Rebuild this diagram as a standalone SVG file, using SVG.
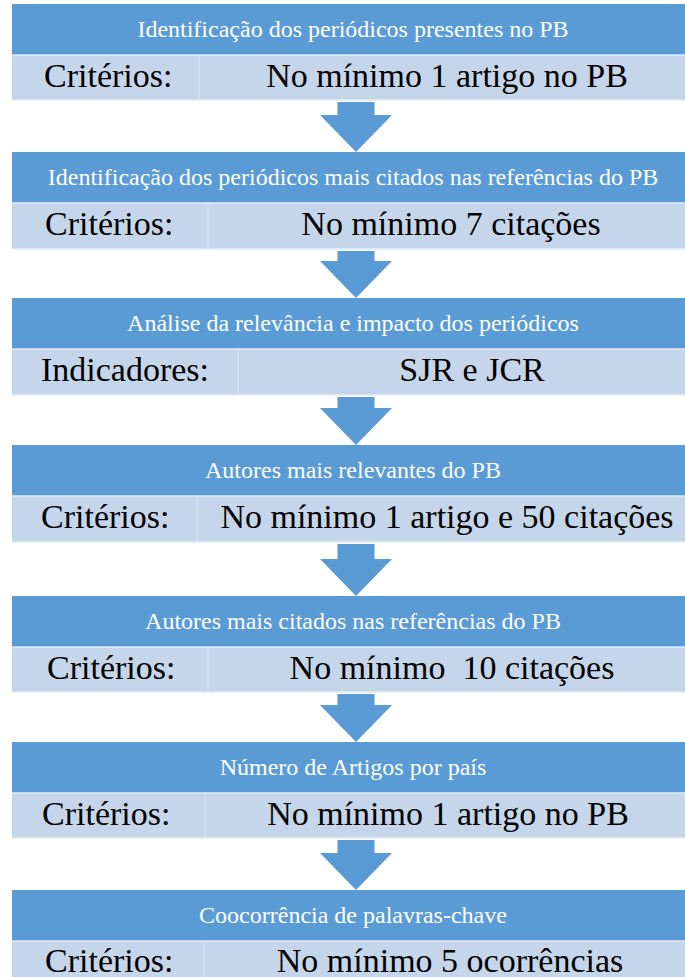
<svg xmlns="http://www.w3.org/2000/svg" width="685" height="977" viewBox="0 0 685 977">
<style>
.hd{fill:#5B9BD5}
.rw{fill:#C5D6EB}
.sep{stroke:#E4ECF6;stroke-width:1.5}
.div{stroke:#D6E1F0;stroke-width:1.5}
.ht{font-size:24px;fill:#FFFFFF;text-anchor:middle}
.lb{font-size:34px;fill:#000000}
.vl{font-size:34px;fill:#000000;text-anchor:middle;white-space:pre}
.ar{fill:#5B9BD5}
</style>
<rect width="685" height="977" fill="#FFFFFF"/>
<g id="connectors">
<polygon class="ar" points="337.5,102 374.5,102 374.5,115 392,115 356,152 320,115 337.5,115"/>
<polygon class="ar" points="337.5,251 374.5,251 374.5,261 392,261 356,298 320,261 337.5,261"/>
<polygon class="ar" points="337.5,397 374.5,397 374.5,408 392,408 356,445 320,408 337.5,408"/>
<polygon class="ar" points="337.5,544 374.5,544 374.5,559 392,559 356,596 320,559 337.5,559"/>
<polygon class="ar" points="337.5,694 374.5,694 374.5,705 392,705 356,742 320,705 337.5,705"/>
<polygon class="ar" points="337.5,840 374.5,840 374.5,853 392,853 356,890 320,853 337.5,853"/>
</g>
<g font-family="Liberation Serif, serif">
<g id="node1">
<rect class="hd" x="12" y="4" width="690" height="51"/>
<rect class="rw" x="12" y="55" width="690" height="45"/>
<line class="sep" x1="12" y1="55" x2="702" y2="55"/>
<line class="sep" x1="12" y1="100" x2="702" y2="100"/>
<line class="div" x1="199" y1="55" x2="199" y2="100"/>
<text class="ht" x="353" y="37">Identificação dos periódicos presentes no PB</text>
<text class="lb" x="44" y="87">Critérios:</text>
<text class="vl" x="447" y="87">No mínimo 1 artigo no PB</text>
</g>
<g id="node2">
<rect class="hd" x="12" y="152" width="690" height="51"/>
<rect class="rw" x="12" y="203" width="690" height="46"/>
<line class="sep" x1="12" y1="203" x2="702" y2="203"/>
<line class="sep" x1="12" y1="249" x2="702" y2="249"/>
<line class="div" x1="208" y1="203" x2="208" y2="249"/>
<text class="ht" x="353" y="185">Identificação dos periódicos mais citados nas referências do PB</text>
<text class="lb" x="45" y="235">Critérios:</text>
<text class="vl" x="451" y="235">No mínimo 7 citações</text>
</g>
<g id="node3">
<rect class="hd" x="12" y="298" width="690" height="51"/>
<rect class="rw" x="12" y="349" width="690" height="46"/>
<line class="sep" x1="12" y1="349" x2="702" y2="349"/>
<line class="sep" x1="12" y1="395" x2="702" y2="395"/>
<line class="div" x1="238" y1="349" x2="238" y2="395"/>
<text class="ht" x="353" y="331">Análise da relevância e impacto dos periódicos</text>
<text class="lb" x="41" y="381">Indicadores:</text>
<text class="vl" x="472" y="381">SJR e JCR</text>
</g>
<g id="node4">
<rect class="hd" x="12" y="445" width="690" height="51"/>
<rect class="rw" x="12" y="496" width="690" height="46"/>
<line class="sep" x1="12" y1="496" x2="702" y2="496"/>
<line class="sep" x1="12" y1="542" x2="702" y2="542"/>
<line class="div" x1="197" y1="496" x2="197" y2="542"/>
<text class="ht" x="353" y="478">Autores mais relevantes do PB</text>
<text class="lb" x="41" y="528">Critérios:</text>
<text class="vl" x="447" y="528">No mínimo 1 artigo e 50 citações</text>
</g>
<g id="node5">
<rect class="hd" x="12" y="596" width="690" height="51"/>
<rect class="rw" x="12" y="647" width="690" height="45"/>
<line class="sep" x1="12" y1="647" x2="702" y2="647"/>
<line class="sep" x1="12" y1="692" x2="702" y2="692"/>
<line class="div" x1="208" y1="647" x2="208" y2="692"/>
<text class="ht" x="353" y="629">Autores mais citados nas referências do PB</text>
<text class="lb" x="47" y="679">Critérios:</text>
<text class="vl" x="452" y="679">No mínimo  10 citações</text>
</g>
<g id="node6">
<rect class="hd" x="12" y="742" width="690" height="51"/>
<rect class="rw" x="12" y="793" width="690" height="45"/>
<line class="sep" x1="12" y1="793" x2="702" y2="793"/>
<line class="sep" x1="12" y1="838" x2="702" y2="838"/>
<line class="div" x1="205" y1="793" x2="205" y2="838"/>
<text class="ht" x="353" y="775">Número de Artigos por país</text>
<text class="lb" x="42" y="825">Critérios:</text>
<text class="vl" x="448" y="825">No mínimo 1 artigo no PB</text>
</g>
<g id="node7">
<rect class="hd" x="12" y="890" width="690" height="51"/>
<rect class="rw" x="12" y="941" width="690" height="46"/>
<line class="sep" x1="12" y1="941" x2="702" y2="941"/>
<line class="div" x1="204" y1="941" x2="204" y2="987"/>
<text class="ht" x="353" y="923">Coocorrência de palavras-chave</text>
<text class="lb" x="45" y="972">Critérios:</text>
<text class="vl" x="450" y="972">No mínimo 5 ocorrências</text>
</g>
</g>
</svg>
